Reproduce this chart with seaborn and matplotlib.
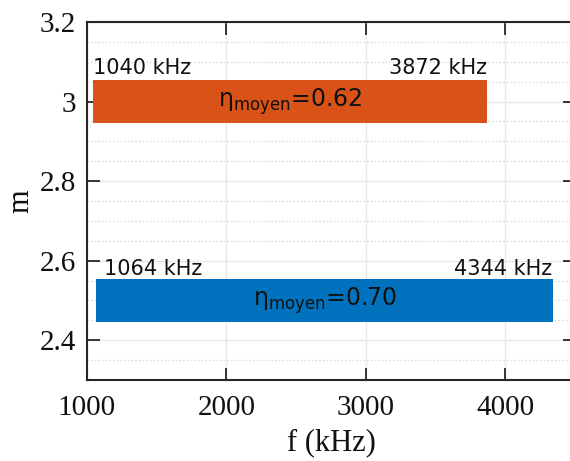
import numpy as np
import pandas as pd
import matplotlib.pyplot as plt
import seaborn as sns
from matplotlib.ticker import MultipleLocator

# data
m_values = [3.0, 2.5]
f_start = [1040, 1064]
f_end = [3872, 4344]
eta_moyen = [0.62, 0.70]
bar_colors = ['#D95319', '#0072BD']

df = pd.DataFrame({'m': m_values, 'f_start': f_start, 'f_end': f_end, 'eta': eta_moyen})
df['width'] = df['f_end'] - df['f_start']

sns.set_theme(style='white')
plt.rcParams['mathtext.default'] = 'regular'
plt.rcParams['font.family'] = ['DejaVu Sans']

fig = plt.figure(figsize=(5.7, 4.61), dpi=100)
ax = fig.add_axes([87 / 570, 1 - 380 / 461, 488 / 570, 358 / 461])

ax.set_xlim(1000, 4500)
ax.set_ylim(2.3, 3.2)
ax.set_xticks([1000, 2000, 3000, 4000])
ax.set_yticks([2.4, 2.6, 2.8, 3.0, 3.2])
ax.set_yticklabels(['2.4', '2.6', '2.8', '3', '3.2'])
ax.yaxis.set_minor_locator(MultipleLocator(0.05))

ax.grid(True, which='major', color='#e8e8e8', linewidth=1.0, zorder=0)
ax.grid(True, which='minor', axis='y', color='#d8d8d8', linestyle=':', linewidth=1.0, zorder=0)
ax.set_axisbelow(True)

for i, row in df.iterrows():
    ax.barh(row['m'], row['width'], left=row['f_start'], height=0.106,
            color=bar_colors[i], edgecolor='none', zorder=2)
    ax.text((row['f_start'] + row['f_end']) / 2, row['m'] - 0.014,
            r'$\eta_{moyen}$=%.2f' % row['eta'], ha='center', va='baseline',
            fontsize=17, color='#111111', zorder=3)

# frequency annotations
ax.text(1040, 3.069, '1040 kHz', ha='left', va='baseline', fontsize=15, color='#111111')
ax.text(3872, 3.069, '3872 kHz', ha='right', va='baseline', fontsize=15, color='#111111')
ax.text(1120, 2.564, '1064 kHz', ha='left', va='baseline', fontsize=15, color='#111111')
ax.text(4335, 2.564, '4344 kHz', ha='right', va='baseline', fontsize=15, color='#111111')

for s in ax.spines.values():
    s.set_color('#262626')
    s.set_linewidth(1.5)
ax.spines['right'].set_visible(False)

ax.tick_params(which='major', direction='in', length=9, width=1.3, color='#262626',
               top=True, right=True, bottom=True, left=True, labelsize=21)
ax.tick_params(axis='y', which='major', pad=8)
ax.tick_params(axis='x', which='major', pad=11)
ax.tick_params(which='minor', length=0)
for lab in ax.get_xticklabels() + ax.get_yticklabels():
    lab.set_family('Liberation Serif')
    lab.set_color('#111111')

ax.set_xlabel('f (kHz)', family='Liberation Serif', fontsize=22, color='#111111', labelpad=5)
ax.set_ylabel('m', family='Liberation Serif', fontsize=22, color='#111111', labelpad=3)

fig.savefig('out.png', dpi=100)
